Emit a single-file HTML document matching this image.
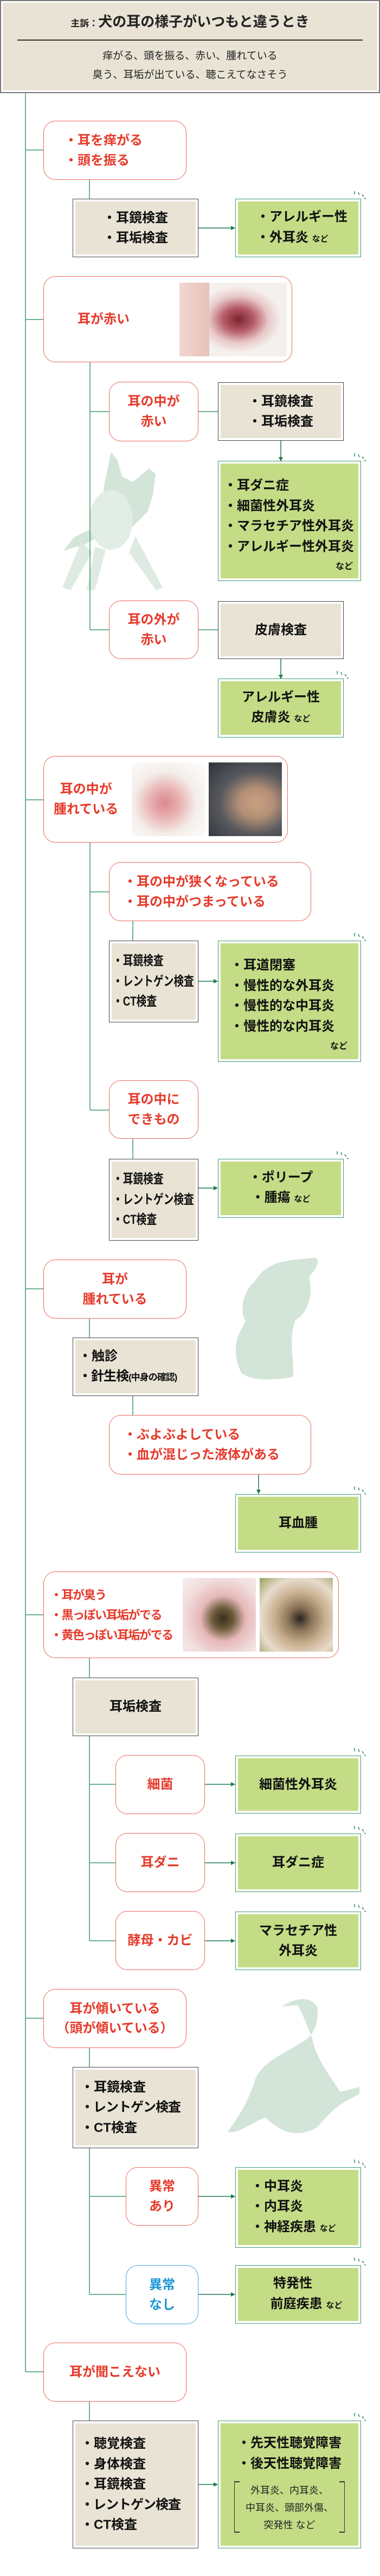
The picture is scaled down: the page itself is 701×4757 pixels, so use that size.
<!DOCTYPE html>
<html><head><meta charset="utf-8">
<style>
*{margin:0;padding:0;box-sizing:border-box}
body{width:701px;height:4757px;position:relative;background:#fff;font-family:"Liberation Sans","Noto Sans CJK JP",sans-serif;overflow:hidden}
.a{position:absolute}
.hd{left:0;top:0;width:701px;height:172px;background:#e8e3d4;border:2px solid #777;box-shadow:inset 0 0 0 3px #fff}
.r{position:absolute;background:#fff;border:1.5px solid #ec675d;border-radius:22px;color:#e53b2c;font-weight:bold;font-size:24px;line-height:37px;display:flex;flex-direction:column;justify-content:center;align-items:center;text-align:center;white-space:nowrap}
.r.l{align-items:flex-start;text-align:left;padding-left:22px}
.ex{position:absolute;background:#e8e3d4;border:1.5px solid #4a4444;box-shadow:inset 0 0 0 4px #fff;color:#111;font-weight:bold;font-size:24px;line-height:37.5px;display:flex;flex-direction:column;justify-content:center;align-items:center;white-space:nowrap}
.ex.l{align-items:flex-start;padding-left:18px}
.gr{position:absolute;background:#c4dc85;border:1.5px solid #3f9b6e;box-shadow:inset 0 0 0 4px #fff;color:#111;font-weight:bold;font-size:24px;line-height:37.5px;display:flex;flex-direction:column;justify-content:center;align-items:center;white-space:nowrap}
.gr.l{align-items:flex-start;padding-left:22px}
.s{font-size:15px;font-weight:bold}
.n{font-size:24px;transform:scaleX(0.78);transform-origin:0 50%;white-space:nowrap}
.ph{position:absolute}
</style></head><body>

<div class="a hd"></div>
<div class="a" style="left:0;top:20px;width:701px;text-align:center;font-weight:bold;color:#222;font-size:26px;line-height:40px"><span style="font-size:17px">主訴：</span>犬の耳の様子がいつもと違うとき</div>
<div class="a" style="left:32px;top:73px;width:637px;height:1.5px;background:#333"></div>
<div class="a" style="left:0;top:86px;width:701px;text-align:center;color:#222;font-size:19px;line-height:35px">痒がる、頭を振る、赤い、腫れている<br>臭う、耳垢が出ている、聴こえてなさそう</div>

<svg class="a" style="left:0;top:0" width="701" height="4757">
<defs><marker id="ar" markerWidth="8" markerHeight="8" refX="7" refY="4" orient="auto" markerUnits="userSpaceOnUse"><path d="M0,0 L8,4 L0,8 Z" fill="#1e7a4d"/></marker></defs>
<!-- dog silhouettes -->
<g fill="#d3e4d8">
<path d="M205 835l12 15 8 30 20 10 30 -25 12 10 -5 40 -10 30 -40 40 -40 0 -35 20 -40 12 20 -25 30 -15 20 -40 5 -40 z"/>
<ellipse cx="205" cy="960" rx="40" ry="55" fill="#e2ede5"/>
<path d="M150 1000l-35 85 15 5 40 -70z M250 990l50 95 -12 5 -50 -70z M175 1010l-15 80 15 0 20 -75z" fill="#dfebe2"/>
<path d="M505 2335c20 -8 50 -10 75 -12 15 0 0 25 -10 35 8 30 0 65 -25 80 -15 40 0 75 -5 105 -50 8 -80 5 -95 -8 -18 -40 -10 -65 8 -95 -12 -20 -5 -55 18 -75 10 -18 25 -25 34 -30z"/>
<path d="M520 3705c25 -15 50 -20 65 0 5 35 -10 60 -35 70 -25 18 -60 28 -78 62 -18 55 -35 75 -52 100 18 5 45 -18 70 -27 18 18 52 45 95 18 18 -18 28 -35 60 -52l18 -9 0 -13 -35 9c-18 -27 -45 -62 -52 -98 -10 -28 -18 -45 -26 -62z"/>
</g>
<g stroke="#3f9b6e" stroke-width="1.5" fill="none">
<path d="M47 172V4380"/>
<path d="M47 277H80M47 590H80M47 1477H80M47 2380H80M47 2982H80M47 3727H80M47 4380H80"/>
<path d="M165 332V367"/>
<path d="M166 669V1163M166 760H201M166 1163H201M366 760H402M366 1163H402"/>
<path d="M166 1556V2050M166 1647H201M166 2050H201M245 1701V1737M245 2103V2140"/>
<path d="M165 2435V2470M245 2578V2613"/>
<path d="M165 3062V3098M165 3206V3584M165 3295H213M165 3440H213M165 3584H213"/>
<path d="M165 3782V3817M165 3967V4237M165 4056H232M165 4237H232"/>
<path d="M165 4435V4470"/>
</g>
<g stroke="#1e7a4d" stroke-width="1.5" marker-end="url(#ar)">
<path d="M366 421H433"/>
<path d="M518 814V851"/>
<path d="M518 1217V1253"/>
<path d="M366 1812H401"/>
<path d="M366 2194H401"/>
<path d="M477 2723V2758"/>
<path d="M378 3295H433"/>
<path d="M378 3440H433"/>
<path d="M378 3584H433"/>
<path d="M366 4056H433"/>
<path d="M366 4237H433"/>
<path d="M366 4588H401"/>
</g>
<g stroke="#2f8a5e" stroke-width="1.5" fill="none">
<g id="sp"><path d="M654 353v6M661 355l2 5M668 359l3 4M672 366l3 1"/></g>
<use href="#sp" y="484"/>
<use href="#sp" x="-32" y="886"/>
<use href="#sp" y="1370"/>
<use href="#sp" x="-32" y="1773"/>
<use href="#sp" y="2392"/>
<use href="#sp" y="2875"/>
<use href="#sp" y="3019"/>
<use href="#sp" y="3163"/>
<use href="#sp" y="3635"/>
<use href="#sp" y="3816"/>
<use href="#sp" y="4103"/>
</g>
</svg>

<!-- section 1 -->
<div class="r l" style="left:80px;top:223px;width:264px;height:109px;padding-left:38px">・耳を痒がる<br>・頭を振る</div>
<div class="ex" style="left:134px;top:367px;width:232px;height:108px">・耳鏡検査<br>・耳垢検査</div>
<div class="gr l" style="left:434px;top:367px;width:232px;height:108px;padding-left:38px"><div>・アレルギー性</div><div>・外耳炎 <span class="s">など</span></div></div>

<!-- section 2 -->
<div class="r" style="left:80px;top:510px;width:459px;height:159px;align-items:flex-start;padding-left:62px">耳が赤い</div>
<div class="ph" style="left:331px;top:522px;width:198px;height:136px;background:radial-gradient(ellipse 40% 45% at 55% 50%,#7a2430 0,#b45a66 35%,#e8c8c8 70%,#f4f0ee 100%),#f6f2f0"></div>
<div class="ph" style="left:331px;top:522px;width:55px;height:136px;background:linear-gradient(90deg,#f2d6cf,#e8c2b8)"></div>
<div class="r" style="left:201px;top:705px;width:165px;height:110px">耳の中が<br>赤い</div>
<div class="ex" style="left:402px;top:706px;width:232px;height:108px">・耳鏡検査<br>・耳垢検査</div>
<div class="gr l" style="left:402px;top:851px;width:264px;height:222px;padding-left:10px;justify-content:flex-start;padding-top:26px"><div>・耳ダニ症</div><div>・細菌性外耳炎</div><div>・マラセチア性外耳炎</div><div>・アレルギー性外耳炎</div><div class="s" style="align-self:flex-end;margin-right:14px;font-size:16px">など</div></div>
<div class="r" style="left:201px;top:1109px;width:165px;height:108px">耳の外が<br>赤い</div>
<div class="ex" style="left:402px;top:1110px;width:232px;height:107px">皮膚検査</div>
<div class="gr" style="left:402px;top:1253px;width:232px;height:109px"><div>アレルギー性</div><div>皮膚炎 <span class="s">など</span></div></div>

<!-- section 3 -->
<div class="r" style="left:80px;top:1396px;width:451px;height:160px;align-items:flex-start;padding-left:18px">耳の中が<br>腫れている</div>
<div class="ph" style="left:243px;top:1408px;width:136px;height:136px;background:radial-gradient(ellipse at 45% 55%,#d98890 0,#e8b0b0 25%,#f4eeea 55%,#fff 100%)"></div>
<div class="ph" style="left:385px;top:1408px;width:135px;height:136px;background:radial-gradient(ellipse at 65% 55%,#c9a080 0,#b59077 25%,#56585d 55%,#2e3238 100%)"></div>
<div class="r l" style="left:201px;top:1592px;width:373px;height:109px;padding-left:26px">・耳の中が狭くなっている<br>・耳の中がつまっている</div>
<div class="ex l" style="left:201px;top:1737px;width:165px;height:151px;padding-left:6px"><div class="n">・耳鏡検査</div><div class="n">・レントゲン検査</div><div class="n">・CT検査</div></div>
<div class="gr l" style="left:402px;top:1737px;width:264px;height:224px;padding-left:22px;justify-content:flex-start;padding-top:26px"><div>・耳道閉塞</div><div>・慢性的な外耳炎</div><div>・慢性的な中耳炎</div><div>・慢性的な内耳炎</div><div class="s" style="align-self:flex-end;margin-right:24px;font-size:16px">など</div></div>
<div class="r" style="left:201px;top:1995px;width:165px;height:108px">耳の中に<br>できもの</div>
<div class="ex l" style="left:201px;top:2140px;width:165px;height:151px;padding-left:6px"><div class="n">・耳鏡検査</div><div class="n">・レントゲン検査</div><div class="n">・CT検査</div></div>
<div class="gr" style="left:402px;top:2140px;width:232px;height:109px"><div>・ポリープ</div><div>・腫瘍 <span class="s">など</span></div></div>

<!-- section 4 -->
<div class="r" style="left:80px;top:2326px;width:264px;height:109px">耳が<br>腫れている</div>
<div class="ex l" style="left:134px;top:2470px;width:232px;height:108px;padding-left:10px"><div>・触診</div><div style="letter-spacing:-1px">・針生検<span style="font-size:17px">(中身の確認)</span></div></div>
<div class="r l" style="left:201px;top:2613px;width:373px;height:110px;padding-left:26px">・ぶよぶよしている<br>・血が混じった液体がある</div>
<div class="gr" style="left:434px;top:2759px;width:232px;height:108px">耳血腫</div>

<!-- section 5 -->
<div class="r l" style="left:80px;top:2902px;width:545px;height:160px;padding-left:12px;font-size:22px;letter-spacing:-1.5px">・耳が臭う<br>・黒っぽい耳垢がでる<br>・黄色っぽい耳垢がでる</div>
<div class="ph" style="left:337px;top:2914px;width:135px;height:136px;background:radial-gradient(ellipse at 55% 55%,#3a2e20 0,#6a5a38 18%,#e6b8b8 40%,#f2dede 70%,#f6eeee 100%)"></div>
<div class="ph" style="left:479px;top:2914px;width:135px;height:136px;background:radial-gradient(ellipse at 55% 55%,#2a2420 0,#8a7256 20%,#c8b090 45%,#e8dccc 70%,#9aa060 100%)"></div>
<div class="ex" style="left:134px;top:3098px;width:232px;height:108px">耳垢検査</div>
<div class="r" style="left:213px;top:3241px;width:165px;height:109px">細菌</div>
<div class="gr" style="left:434px;top:3242px;width:232px;height:107px">細菌性外耳炎</div>
<div class="r" style="left:213px;top:3385px;width:165px;height:109px">耳ダニ</div>
<div class="gr" style="left:434px;top:3386px;width:232px;height:108px">耳ダニ症</div>
<div class="r" style="left:213px;top:3529px;width:165px;height:109px">酵母・カビ</div>
<div class="gr" style="left:434px;top:3530px;width:232px;height:108px"><div>マラセチア性</div><div>外耳炎</div></div>

<!-- section 6 -->
<div class="r" style="left:80px;top:3673px;width:264px;height:109px;line-height:36px">耳が傾いている<br>（頭が傾いている）</div>
<div class="ex l" style="left:134px;top:3817px;width:232px;height:150px;padding-left:14px"><div>・耳鏡検査</div><div style="letter-spacing:-1px">・レントゲン検査</div><div>・CT検査</div></div>
<div class="r" style="left:232px;top:4002px;width:134px;height:108px">異常<br>あり</div>
<div class="gr l" style="left:434px;top:4002px;width:232px;height:149px;padding-left:28px"><div>・中耳炎</div><div>・内耳炎</div><div>・神経疾患 <span class="s">など</span></div></div>
<div class="r" style="left:232px;top:4183px;width:134px;height:109px;border-color:#4aa6dc;color:#1d97d3">異常<br>なし</div>
<div class="gr" style="left:434px;top:4183px;width:232px;height:108px"><div style="margin-right:20px">特発性</div><div style="margin-left:30px">前庭疾患 <span class="s">など</span></div></div>

<!-- section 7 -->
<div class="r" style="left:80px;top:4326px;width:264px;height:109px">耳が聞こえない</div>
<div class="ex l" style="left:134px;top:4470px;width:232px;height:236px;padding-left:14px"><div>・聴覚検査</div><div>・身体検査</div><div>・耳鏡検査</div><div style="letter-spacing:-1px">・レントゲン検査</div><div>・CT検査</div></div>
<div class="gr" style="left:402px;top:4470px;width:264px;height:236px;justify-content:flex-start;padding-top:22px"><div>・先天性聴覚障害</div><div>・後天性聴覚障害</div></div>
<div class="a" style="left:432px;top:4582px;width:204px;height:94px;border:1.5px solid #333;border-top:none;border-bottom:none"></div>
<div class="a" style="left:432px;top:4582px;width:10px;height:1.5px;background:#333"></div>
<div class="a" style="left:432px;top:4675px;width:10px;height:1.5px;background:#333"></div>
<div class="a" style="left:626px;top:4582px;width:10px;height:1.5px;background:#333"></div>
<div class="a" style="left:626px;top:4675px;width:10px;height:1.5px;background:#333"></div>
<div class="a" style="left:436px;top:4583px;width:196px;text-align:center;font-size:18px;line-height:32px;color:#222">外耳炎、内耳炎、<br>中耳炎、頭部外傷、<br>突発性 など</div>

</body></html>
